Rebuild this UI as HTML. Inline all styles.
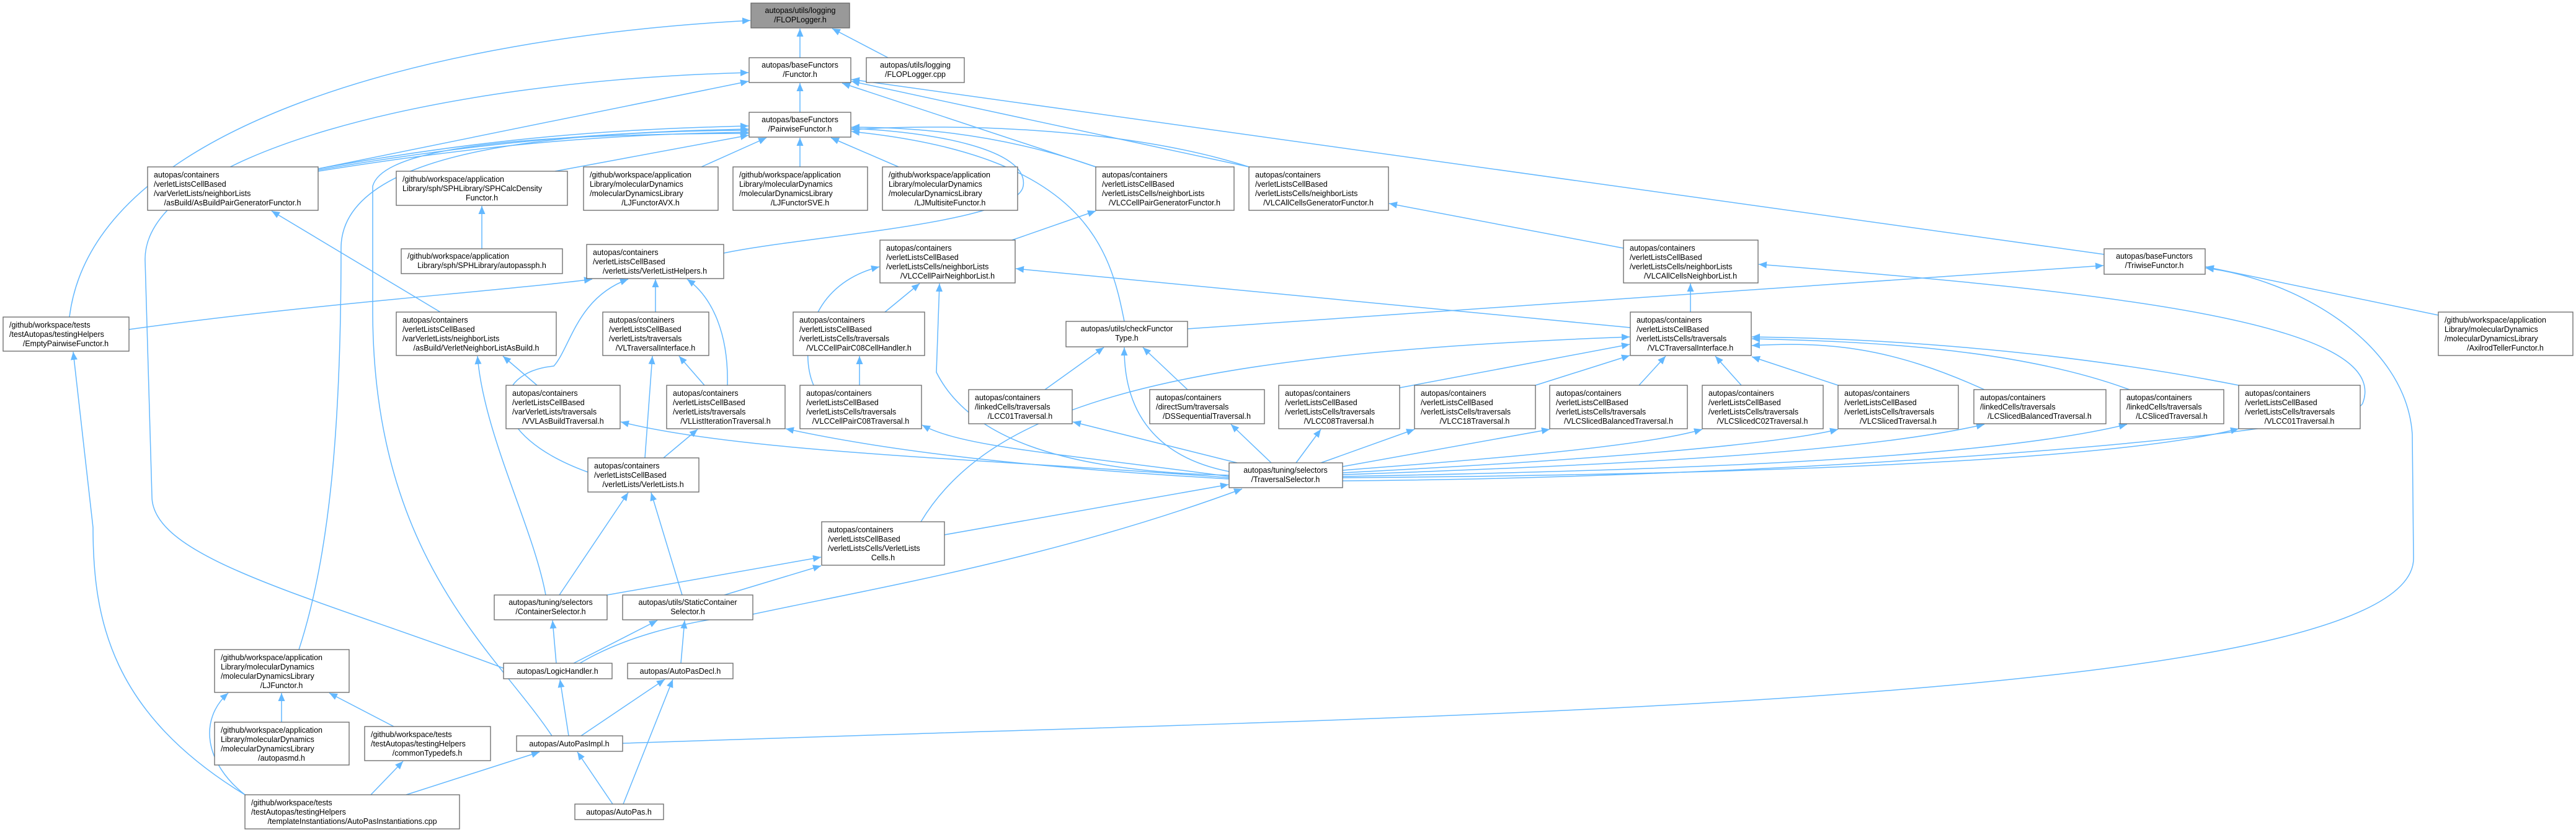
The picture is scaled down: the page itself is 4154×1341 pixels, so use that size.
<!DOCTYPE html>
<html><head><meta charset="utf-8"><style>
html,body{margin:0;padding:0;background:#fff;}
svg{display:block;}
text{font-family:"Liberation Sans",sans-serif;font-size:12.5px;fill:#000;}
.n{fill:#fff;stroke:#666;stroke-width:1.3;}
.g{fill:#999;stroke:#666;stroke-width:1.3;}
.e{fill:none;stroke:#63b8ff;stroke-width:1.5;marker-end:url(#a);}
</style></head><body>
<svg width="4154" height="1341" viewBox="0 0 4154 1341" xmlns="http://www.w3.org/2000/svg">
<defs><marker id="a" markerUnits="userSpaceOnUse" markerWidth="14" markerHeight="12" refX="13" refY="5.5" orient="auto"><path d="M0,0 L13,5.5 L0,11 z" fill="#63b8ff"/></marker></defs>
<g id="edges">
<path class="e" d="M1290,93 L1290,46"/>
<path class="e" d="M1432,93 L1342,46"/>
<path class="e" d="M112,511 C150,200 700,60 1210,33"/>
<path class="e" d="M812,1077 C500,960 245,900 245,800 L234,420 C230,250 700,130 1207,117"/>
<path class="e" d="M513,272 L1207,131"/>
<path class="e" d="M3393,410 L1373,128"/>
<path class="e" d="M1767,269 L1358,134"/>
<path class="e" d="M2014,269 L1373,131"/>
<path class="e" d="M1290,181 L1290,134"/>
<path class="e" d="M513,272 C800,220 1000,208 1207,203"/>
<path class="e" d="M513,274 C800,225 1000,212 1207,208"/>
<path class="e" d="M513,276 C800,230 1000,216 1207,213"/>
<path class="e" d="M895,276 L1207,218"/>
<path class="e" d="M1131,269 L1236,222"/>
<path class="e" d="M1290,269 L1290,222"/>
<path class="e" d="M1449,269 L1340,222"/>
<path class="e" d="M1767,269 C1600,210 1450,205 1373,205"/>
<path class="e" d="M2014,269 C1800,200 1500,200 1373,209"/>
<path class="e" d="M1167,408 C1300,380 1640,360 1650,300 C1660,240 1500,212 1373,207"/>
<path class="e" d="M1813,518 C1790,400 1750,250 1373,212"/>
<path class="e" d="M482,1047 C530,900 550,700 550,400 C550,240 900,212 1207,210"/>
<path class="e" d="M890,1186 C800,1050 601,900 601,500 L601,300 C620,230 900,216 1207,215"/>
<path class="e" d="M777,401 L777,332"/>
<path class="e" d="M710,503 L438,340"/>
<path class="e" d="M208,531 C500,490 800,470 955,450"/>
<path class="e" d="M948,761 C780,700 790,600 893,590 C920,560 930,480 1013,450"/>
<path class="e" d="M1057,503 L1057,450"/>
<path class="e" d="M1173,621 C1175,540 1150,480 1108,450"/>
<path class="e" d="M866,621 L811,574"/>
<path class="e" d="M880,959 C860,850 780,700 770,574"/>
<path class="e" d="M1040,738 L1052,574"/>
<path class="e" d="M1136,621 L1095,574"/>
<path class="e" d="M1070,738 L1125,692"/>
<path class="e" d="M902,959 L1013,794"/>
<path class="e" d="M1100,959 L1050,794"/>
<path class="e" d="M1982,770 C1600,740 1200,730 1001,680"/>
<path class="e" d="M1982,772 C1600,750 1400,720 1267,691"/>
<path class="e" d="M1982,768 C1700,730 1550,720 1487,685"/>
<path class="e" d="M1995,746 L1730,680"/>
<path class="e" d="M2050,746 L1985,684"/>
<path class="e" d="M2090,746 L2130,692"/>
<path class="e" d="M2130,746 L2281,692"/>
<path class="e" d="M2165,752 L2499,692"/>
<path class="e" d="M2165,758 C2400,740 2650,720 2745,692"/>
<path class="e" d="M2165,762 C2500,745 2850,720 2964,692"/>
<path class="e" d="M2165,765 C2600,750 3000,730 3200,684"/>
<path class="e" d="M2165,768 C2700,758 3200,740 3430,684"/>
<path class="e" d="M2165,770 C2800,765 3400,745 3610,691"/>
<path class="e" d="M1982,760 C1880,740 1812,680 1813,560"/>
<path class="e" d="M1982,766 C1700,760 1560,700 1510,600 L1515,457"/>
<path class="e" d="M2165,775 C2900,770 3790,700 3810,650 C3860,520 3400,470 2836,426"/>
<path class="e" d="M1523,862 L1981,781"/>
<path class="e" d="M935,1069 C1000,1030 1100,1000 1214,990 C1400,950 1700,900 2003,788"/>
<path class="e" d="M1485,841 C1600,650 1900,570 2628,543"/>
<path class="e" d="M2257,625 L2628,555"/>
<path class="e" d="M2476,621 L2628,573"/>
<path class="e" d="M2643,621 L2686,574"/>
<path class="e" d="M2808,621 L2766,574"/>
<path class="e" d="M2964,621 L2825,575"/>
<path class="e" d="M3200,628 C3050,560 2950,550 2825,557"/>
<path class="e" d="M3434,628 C3250,560 3000,550 2825,546"/>
<path class="e" d="M3610,621 C3300,560 3000,545 2825,543"/>
<path class="e" d="M2629,528 L1638,433"/>
<path class="e" d="M2726,503 L2726,457"/>
<path class="e" d="M1915,530 L3392,428"/>
<path class="e" d="M1685,628 L1780,560"/>
<path class="e" d="M1915,628 L1843,560"/>
<path class="e" d="M3932,508 L3557,430"/>
<path class="e" d="M1004,1198 L1400,1185 C2500,1150 3892,1120 3892,900 L3890,700 C3880,550 3700,450 3557,432"/>
<path class="e" d="M1632,387 L1767,340"/>
<path class="e" d="M2618,400 L2240,328"/>
<path class="e" d="M1312,621 C1290,570 1300,460 1418,430"/>
<path class="e" d="M1427,503 L1483,457"/>
<path class="e" d="M1386,621 L1386,574"/>
<path class="e" d="M979,959 L1324,898"/>
<path class="e" d="M1168,959 L1324,912"/>
<path class="e" d="M897,1069 L891,1000"/>
<path class="e" d="M925,1069 L1060,1000"/>
<path class="e" d="M1098,1069 L1104,1000"/>
<path class="e" d="M917,1186 L903,1095"/>
<path class="e" d="M937,1186 L1072,1095"/>
<path class="e" d="M1005,1296 L1085,1095"/>
<path class="e" d="M988,1296 L931,1212"/>
<path class="e" d="M655,1281 L870,1212"/>
<path class="e" d="M598,1281 L650,1227"/>
<path class="e" d="M395,1281 C330,1230 320,1160 368,1117"/>
<path class="e" d="M395,1281 C180,1150 150,1000 150,850 L118,567"/>
<path class="e" d="M454,1164 L454,1117"/>
<path class="e" d="M635,1171 L531,1117"/>
</g>
<g id="nodes">
<rect class="g" x="1211" y="5" width="159" height="40"/>
<text x="1290.5" y="21" text-anchor="middle">autopas/utils/logging</text><text x="1290.5" y="36" text-anchor="middle">/FLOPLogger.h</text>

<rect class="n" x="1208" y="93" width="164" height="40"/>
<text x="1290" y="109" text-anchor="middle">autopas/baseFunctors</text><text x="1290" y="124" text-anchor="middle">/Functor.h</text>

<rect class="n" x="1397" y="93" width="158" height="40"/>
<text x="1476" y="109" text-anchor="middle">autopas/utils/logging</text><text x="1476" y="124" text-anchor="middle">/FLOPLogger.cpp</text>

<rect class="n" x="1208" y="181" width="164" height="40"/>
<text x="1290" y="197" text-anchor="middle">autopas/baseFunctors</text><text x="1290" y="212" text-anchor="middle">/PairwiseFunctor.h</text>

<rect class="n" x="238" y="269" width="275" height="70"/>
<text x="248" y="286">autopas/containers</text><text x="248" y="301">/verletListsCellBased</text><text x="248" y="316">/varVerletLists/neighborLists</text><text x="375" y="331" text-anchor="middle">/asBuild/AsBuildPairGeneratorFunctor.h</text>

<rect class="n" x="639" y="276" width="276" height="55"/>
<text x="649" y="293">/github/workspace/application</text><text x="649" y="308">Library/sph/SPHLibrary/SPHCalcDensity</text><text x="777" y="323" text-anchor="middle">Functor.h</text>

<rect class="n" x="941" y="269" width="217" height="70"/>
<text x="951" y="286">/github/workspace/application</text><text x="951" y="301">Library/molecularDynamics</text><text x="951" y="316">/molecularDynamicsLibrary</text><text x="1049" y="331" text-anchor="middle">/LJFunctorAVX.h</text>

<rect class="n" x="1182" y="269" width="217" height="70"/>
<text x="1192" y="286">/github/workspace/application</text><text x="1192" y="301">Library/molecularDynamics</text><text x="1192" y="316">/molecularDynamicsLibrary</text><text x="1290" y="331" text-anchor="middle">/LJFunctorSVE.h</text>

<rect class="n" x="1423" y="269" width="218" height="70"/>
<text x="1433" y="286">/github/workspace/application</text><text x="1433" y="301">Library/molecularDynamics</text><text x="1433" y="316">/molecularDynamicsLibrary</text><text x="1532" y="331" text-anchor="middle">/LJMultisiteFunctor.h</text>

<rect class="n" x="1767" y="269" width="223" height="70"/>
<text x="1777" y="286">autopas/containers</text><text x="1777" y="301">/verletListsCellBased</text><text x="1777" y="316">/verletListsCells/neighborLists</text><text x="1878" y="331" text-anchor="middle">/VLCCellPairGeneratorFunctor.h</text>

<rect class="n" x="2014" y="269" width="225" height="70"/>
<text x="2024" y="286">autopas/containers</text><text x="2024" y="301">/verletListsCellBased</text><text x="2024" y="316">/verletListsCells/neighborLists</text><text x="2126" y="331" text-anchor="middle">/VLCAllCellsGeneratorFunctor.h</text>

<rect class="n" x="647" y="401" width="260" height="40"/>
<text x="657" y="417">/github/workspace/application</text><text x="777" y="432" text-anchor="middle">Library/sph/SPHLibrary/autopassph.h</text>

<rect class="n" x="946" y="394" width="221" height="55"/>
<text x="956" y="411">autopas/containers</text><text x="956" y="426">/verletListsCellBased</text><text x="1056" y="441" text-anchor="middle">/verletLists/VerletListHelpers.h</text>

<rect class="n" x="1419" y="387" width="218" height="69"/>
<text x="1429" y="404">autopas/containers</text><text x="1429" y="419">/verletListsCellBased</text><text x="1429" y="434">/verletListsCells/neighborLists</text><text x="1528" y="449" text-anchor="middle">/VLCCellPairNeighborList.h</text>

<rect class="n" x="2618" y="387" width="217" height="69"/>
<text x="2628" y="404">autopas/containers</text><text x="2628" y="419">/verletListsCellBased</text><text x="2628" y="434">/verletListsCells/neighborLists</text><text x="2726" y="449" text-anchor="middle">/VLCAllCellsNeighborList.h</text>

<rect class="n" x="3393" y="401" width="163" height="41"/>
<text x="3474" y="417" text-anchor="middle">autopas/baseFunctors</text><text x="3474" y="432" text-anchor="middle">/TriwiseFunctor.h</text>

<rect class="n" x="5" y="511" width="203" height="55"/>
<text x="15" y="528">/github/workspace/tests</text><text x="15" y="543">/testAutopas/testingHelpers</text><text x="106" y="558" text-anchor="middle">/EmptyPairwiseFunctor.h</text>

<rect class="n" x="639" y="503" width="258" height="70"/>
<text x="649" y="520">autopas/containers</text><text x="649" y="535">/verletListsCellBased</text><text x="649" y="550">/varVerletLists/neighborLists</text><text x="768" y="565" text-anchor="middle">/asBuild/VerletNeighborListAsBuild.h</text>

<rect class="n" x="972" y="503" width="171" height="70"/>
<text x="982" y="520">autopas/containers</text><text x="982" y="535">/verletListsCellBased</text><text x="982" y="550">/verletLists/traversals</text><text x="1057" y="565" text-anchor="middle">/VLTraversalInterface.h</text>

<rect class="n" x="1279" y="503" width="212" height="70"/>
<text x="1289" y="520">autopas/containers</text><text x="1289" y="535">/verletListsCellBased</text><text x="1289" y="550">/verletListsCells/traversals</text><text x="1385" y="565" text-anchor="middle">/VLCCellPairC08CellHandler.h</text>

<rect class="n" x="1719" y="518" width="196" height="41"/>
<text x="1817" y="534" text-anchor="middle">autopas/utils/checkFunctor</text><text x="1817" y="549" text-anchor="middle">Type.h</text>

<rect class="n" x="2629" y="503" width="195" height="70"/>
<text x="2639" y="520">autopas/containers</text><text x="2639" y="535">/verletListsCellBased</text><text x="2639" y="550">/verletListsCells/traversals</text><text x="2726" y="565" text-anchor="middle">/VLCTraversalInterface.h</text>

<rect class="n" x="3932" y="503" width="217" height="70"/>
<text x="3942" y="520">/github/workspace/application</text><text x="3942" y="535">Library/molecularDynamics</text><text x="3942" y="550">/molecularDynamicsLibrary</text><text x="4040" y="565" text-anchor="middle">/AxilrodTellerFunctor.h</text>

<rect class="n" x="816" y="621" width="184" height="70"/>
<text x="826" y="638">autopas/containers</text><text x="826" y="653">/verletListsCellBased</text><text x="826" y="668">/varVerletLists/traversals</text><text x="908" y="683" text-anchor="middle">/VVLAsBuildTraversal.h</text>

<rect class="n" x="1075" y="621" width="191" height="70"/>
<text x="1085" y="638">autopas/containers</text><text x="1085" y="653">/verletListsCellBased</text><text x="1085" y="668">/verletLists/traversals</text><text x="1170" y="683" text-anchor="middle">/VLListIterationTraversal.h</text>

<rect class="n" x="1290" y="621" width="196" height="70"/>
<text x="1300" y="638">autopas/containers</text><text x="1300" y="653">/verletListsCellBased</text><text x="1300" y="668">/verletListsCells/traversals</text><text x="1388" y="683" text-anchor="middle">/VLCCellPairC08Traversal.h</text>

<rect class="n" x="1562" y="628" width="167" height="55"/>
<text x="1572" y="645">autopas/containers</text><text x="1572" y="660">/linkedCells/traversals</text><text x="1645" y="675" text-anchor="middle">/LCC01Traversal.h</text>

<rect class="n" x="1854" y="628" width="185" height="55"/>
<text x="1864" y="645">autopas/containers</text><text x="1864" y="660">/directSum/traversals</text><text x="1946" y="675" text-anchor="middle">/DSSequentialTraversal.h</text>

<rect class="n" x="2062" y="621" width="195" height="70"/>
<text x="2072" y="638">autopas/containers</text><text x="2072" y="653">/verletListsCellBased</text><text x="2072" y="668">/verletListsCells/traversals</text><text x="2159" y="683" text-anchor="middle">/VLCC08Traversal.h</text>

<rect class="n" x="2281" y="621" width="195" height="70"/>
<text x="2291" y="638">autopas/containers</text><text x="2291" y="653">/verletListsCellBased</text><text x="2291" y="668">/verletListsCells/traversals</text><text x="2378" y="683" text-anchor="middle">/VLCC18Traversal.h</text>

<rect class="n" x="2499" y="621" width="222" height="70"/>
<text x="2509" y="638">autopas/containers</text><text x="2509" y="653">/verletListsCellBased</text><text x="2509" y="668">/verletListsCells/traversals</text><text x="2610" y="683" text-anchor="middle">/VLCSlicedBalancedTraversal.h</text>

<rect class="n" x="2745" y="621" width="195" height="70"/>
<text x="2755" y="638">autopas/containers</text><text x="2755" y="653">/verletListsCellBased</text><text x="2755" y="668">/verletListsCells/traversals</text><text x="2842" y="683" text-anchor="middle">/VLCSlicedC02Traversal.h</text>

<rect class="n" x="2964" y="621" width="194" height="70"/>
<text x="2974" y="638">autopas/containers</text><text x="2974" y="653">/verletListsCellBased</text><text x="2974" y="668">/verletListsCells/traversals</text><text x="3061" y="683" text-anchor="middle">/VLCSlicedTraversal.h</text>

<rect class="n" x="3183" y="628" width="213" height="55"/>
<text x="3193" y="645">autopas/containers</text><text x="3193" y="660">/linkedCells/traversals</text><text x="3289" y="675" text-anchor="middle">/LCSlicedBalancedTraversal.h</text>

<rect class="n" x="3419" y="628" width="167" height="55"/>
<text x="3429" y="645">autopas/containers</text><text x="3429" y="660">/linkedCells/traversals</text><text x="3502" y="675" text-anchor="middle">/LCSlicedTraversal.h</text>

<rect class="n" x="3610" y="621" width="196" height="70"/>
<text x="3620" y="638">autopas/containers</text><text x="3620" y="653">/verletListsCellBased</text><text x="3620" y="668">/verletListsCells/traversals</text><text x="3708" y="683" text-anchor="middle">/VLCC01Traversal.h</text>

<rect class="n" x="948" y="738" width="179" height="55"/>
<text x="958" y="755">autopas/containers</text><text x="958" y="770">/verletListsCellBased</text><text x="1037" y="785" text-anchor="middle">/verletLists/VerletLists.h</text>

<rect class="n" x="1982" y="746" width="183" height="40"/>
<text x="2073" y="762" text-anchor="middle">autopas/tuning/selectors</text><text x="2073" y="777" text-anchor="middle">/TraversalSelector.h</text>

<rect class="n" x="1325" y="841" width="198" height="70"/>
<text x="1335" y="858">autopas/containers</text><text x="1335" y="873">/verletListsCellBased</text><text x="1335" y="888">/verletListsCells/VerletLists</text><text x="1424" y="903" text-anchor="middle">Cells.h</text>

<rect class="n" x="797" y="959" width="182" height="40"/>
<text x="888" y="975" text-anchor="middle">autopas/tuning/selectors</text><text x="888" y="990" text-anchor="middle">/ContainerSelector.h</text>

<rect class="n" x="1004" y="959" width="210" height="40"/>
<text x="1109" y="975" text-anchor="middle">autopas/utils/StaticContainer</text><text x="1109" y="990" text-anchor="middle">Selector.h</text>

<rect class="n" x="346" y="1047" width="217" height="69"/>
<text x="356" y="1064">/github/workspace/application</text><text x="356" y="1079">Library/molecularDynamics</text><text x="356" y="1094">/molecularDynamicsLibrary</text><text x="454" y="1109" text-anchor="middle">/LJFunctor.h</text>

<rect class="n" x="812" y="1069" width="175" height="25"/>
<text x="899" y="1086" text-anchor="middle">autopas/LogicHandler.h</text>

<rect class="n" x="1012" y="1069" width="170" height="25"/>
<text x="1097" y="1086" text-anchor="middle">autopas/AutoPasDecl.h</text>

<rect class="n" x="346" y="1164" width="217" height="69"/>
<text x="356" y="1181">/github/workspace/application</text><text x="356" y="1196">Library/molecularDynamics</text><text x="356" y="1211">/molecularDynamicsLibrary</text><text x="454" y="1226" text-anchor="middle">/autopasmd.h</text>

<rect class="n" x="588" y="1171" width="203" height="55"/>
<text x="598" y="1188">/github/workspace/tests</text><text x="598" y="1203">/testAutopas/testingHelpers</text><text x="689" y="1218" text-anchor="middle">/commonTypedefs.h</text>

<rect class="n" x="833" y="1186" width="171" height="25"/>
<text x="918" y="1203" text-anchor="middle">autopas/AutoPasImpl.h</text>

<rect class="n" x="395" y="1281" width="346" height="55"/>
<text x="405" y="1298">/github/workspace/tests</text><text x="405" y="1313">/testAutopas/testingHelpers</text><text x="568" y="1328" text-anchor="middle">/templateInstantiations/AutoPasInstantiations.cpp</text>

<rect class="n" x="927" y="1296" width="143" height="25"/>
<text x="998" y="1313" text-anchor="middle">autopas/AutoPas.h</text>
</g>
</svg>
</body></html>
